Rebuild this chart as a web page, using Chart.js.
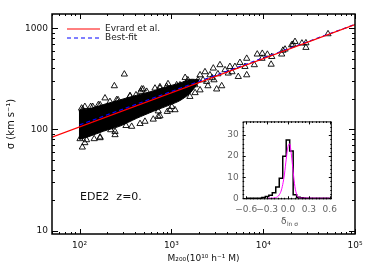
<!DOCTYPE html>
<html>
<head>
<meta charset="utf-8">
<script src="https://cdn.jsdelivr.net/npm/chart.js@4.4.1/dist/chart.umd.min.js"></script>
<style>
html, body { margin: 0; padding: 0; background: #fff; }
#wrap { position: relative; width: 374px; height: 267px; }
#main { position: absolute; left: 0; top: 0; }
#inset { position: absolute; left: 222px; top: 112px; }
</style>
</head>
<body>
<div id="wrap">
  <canvas id="main" width="374" height="267"></canvas>
  <canvas id="inset" width="120" height="118"></canvas>
</div>
<script>
// --- main panel: sigma vs M200 ---
const massRange = [50, 1e5];
const sigmaRange = [9.3, 1380];
const xTickValues = [1e2, 1e3, 1e4, 1e5];
const xTickLabels = ['10²', '10³', '10⁴', '10⁵'];
const yTickValues = [10, 100, 1000];
const yTickLabels = ['10', '100', '1000'];

const evrardMass = [50, 1e5];
const evrardSigma = [84, 1083];
const bestFitMass = [100, 1e5];
const bestFitSigma = [111, 1088];

// dense cloud of haloes (outline of the solid black band)
const bandMass  = [98, 101, 130, 181, 275, 419, 634, 964, 1240, 1590, 2000];
const bandUpper = [152, 156, 161, 176, 196, 218, 240, 270, 288, 312, 310];
const bandLower = [81, 80, 86, 96, 108, 129, 151, 175, 193, 228, 295];

// individual haloes outside / along the edge of the dense band
const haloMass = [
  50800, 29200, 29200, 22200, 21100, 26400, 20400, 17300, 16400, 15900,
  12200, 12400, 11100, 9770, 9700, 8610, 8000, 6610, 6330, 6610,
  5350, 5580, 4920, 4340, 3380, 3530, 3110, 2860, 4160, 2420,
  1410, 1590, 1140, 1010, 2320, 2630, 3840, 4570, 2050, 1950,
  2770, 3210, 307, 239, 189, 107, 108, 139, 144, 218,
  320, 462, 474, 411, 719, 902, 1140, 634, 101, 105,
  132, 494, 662, 167, 262, 354, 750, 918, 114, 167,
  243, 455, 750, 1094, 1240, 1510, 1810, 2050, 2210, 2500,
  1810, 1440, 2910,
  114, 160, 214, 253, 354, 538, 750, 887,
  119, 167, 243, 369, 515, 719, 964
];
const haloSigma = [
  877, 643, 714, 736, 690, 710, 682, 619, 603, 553,
  439, 523, 551, 562, 502, 553, 434, 502, 417, 345,
  332, 457, 417, 417, 434, 269, 250, 402, 359, 297,
  325, 211, 204, 168, 370, 345, 387, 370, 345, 308,
  323, 353, 351, 269, 204, 66.8, 158, 168, 80.8, 99,
  109, 237, 250, 219, 152, 150, 275, 126, 80.8, 162,
  168, 250, 255, 175, 196, 214, 263, 282, 73.8, 82.6,
  88.5, 114, 136, 156, 275, 308, 275, 245, 308, 269,
  230, 235, 308,
  168, 175, 188, 196, 214, 237, 255, 265,
  78.9, 84, 95.3, 107, 120, 134, 156
];

// --- inset: distribution of delta ln sigma ---
const histCenters = [
  -0.60, -0.55, -0.50, -0.45, -0.40, -0.35, -0.30, -0.25, -0.20, -0.15, -0.10, -0.05,
  0.00, 0.05, 0.10, 0.15, 0.20, 0.25, 0.30, 0.35, 0.40, 0.45, 0.50, 0.55, 0.60
];
const histCounts = [
  0, 0, 0, 0, 0, 0.4, 0.8, 1.4, 2.6, 5.3, 9.5, 20,
  27.7, 22.5, 1.7, 0.5, 0.2, 0, 0, 0, 0, 0, 0, 0, 0
];
const gaussX = [-0.30, -0.20, -0.175, -0.15, -0.125, -0.10, -0.075, -0.05, -0.025, 0.0, 0.025, 0.05, 0.075, 0.10, 0.125, 0.15, 0.175, 0.63];
const gaussY = [0, 0.1, 0.3, 0.7, 1.6, 3.3, 6.5, 11.5, 18.5, 24.5, 25.8, 20.5, 12.5, 5.5, 1.8, 0.5, 0.1, 0];
const insetXTicks = [-0.6, -0.3, 0.0, 0.3, 0.6];
const insetXLabels = ['−0.6', '−0.3', '0.0', '0.3', '0.6'];
const insetYTicks = [0, 10, 20, 30];
const insetYLabels = ['0', '10', '20', '30'];

Chart.defaults.font.family = 'DejaVu Sans';
Chart.defaults.color = '#111';

const pts = (xs, ys) => xs.map((x, i) => ({ x: x, y: ys[i] }));

// frame, inward ticks on all four sides, legend and label text
const mainDecor = {
  id: 'mainDecor',
  afterDatasetsDraw(chart) {
    const { ctx, chartArea: a, scales: { x, y } } = chart;
    ctx.save();
    ctx.strokeStyle = '#000';
    ctx.lineWidth = 1.5;
    ctx.strokeRect(a.left, a.top, a.right - a.left, a.bottom - a.top);

    ctx.lineWidth = 1;
    ctx.beginPath();
    for (let d = 1; d <= 5; d++) {
      for (let k = 1; k <= 9; k++) {
        const v = k * Math.pow(10, d);
        if (v >= x.min && v <= x.max * 1.001) {
          const px = Math.round(x.getPixelForValue(v)) + 0.5;
          const len = k === 1 ? 5 : 2;
          ctx.moveTo(px, a.bottom); ctx.lineTo(px, a.bottom - len);
          ctx.moveTo(px, a.top); ctx.lineTo(px, a.top + len);
        }
        if (v >= y.min && v <= y.max) {
          const py = Math.round(y.getPixelForValue(v)) + 0.5;
          const len = k === 1 ? 6 : 3;
          ctx.moveTo(a.left, py); ctx.lineTo(a.left + len, py);
          ctx.moveTo(a.right, py); ctx.lineTo(a.right - len, py);
        }
      }
    }
    ctx.stroke();

    // legend (first two datasets)
    ctx.font = '9px "DejaVu Sans"';
    ctx.textBaseline = 'middle';
    ctx.textAlign = 'left';
    [29, 38].forEach((ly, i) => {
      const ds = chart.data.datasets[i];
      ctx.strokeStyle = ds.borderColor;
      ctx.lineWidth = 1;
      ctx.setLineDash(ds.borderDash || []);
      ctx.beginPath();
      ctx.moveTo(67, ly); ctx.lineTo(100, ly);
      ctx.stroke();
      ctx.setLineDash([]);
      ctx.fillStyle = '#222';
      ctx.fillText(ds.label, 105, ly - 0.5);
    });

    ctx.font = '11px "DejaVu Sans"';
    ctx.fillStyle = '#111';
    ctx.fillText('EDE2  z=0.', 80, 197);
    ctx.restore();
  }
};

new Chart(document.getElementById('main'), {
  type: 'line',
  data: {
    datasets: [
      { label: 'Evrard et al.', data: pts(evrardMass, evrardSigma), borderColor: '#ff0000', borderWidth: 1.3, pointRadius: 0 },
      { label: 'Best-fit', data: pts(bestFitMass, bestFitSigma), borderColor: '#0000ff', borderWidth: 1.2, borderDash: [4, 3], pointRadius: 0 },
      { label: 'haloes', data: pts(haloMass, haloSigma), showLine: false, pointStyle: 'triangle', pointRadius: 3.6, borderWidth: 0.9, borderColor: '#000', backgroundColor: 'rgba(0,0,0,0)' },
      { label: 'band top', data: pts(bandMass, bandUpper), borderColor: '#000', borderWidth: 1, pointRadius: 0, backgroundColor: '#000', fill: '+1', tension: 0.3 },
      { label: 'band bottom', data: pts(bandMass, bandLower), borderColor: '#000', borderWidth: 1, pointRadius: 0, tension: 0.3 }
    ]
  },
  options: {
    responsive: false,
    animation: false,
    events: [],
    layout: { padding: { top: 14, right: 19, left: 0, bottom: 0 } },
    plugins: { legend: { display: false }, tooltip: { enabled: false } },
    scales: {
      x: {
        type: 'logarithmic', min: massRange[0], max: massRange[1],
        afterBuildTicks: s => { s.ticks = xTickValues.map(v => ({ value: v })); },
        afterFit: s => { s.height = 33; },
        grid: { display: false, drawTicks: false },
        border: { display: false },
        ticks: { callback: (v, i) => xTickLabels[i], font: { size: 9 }, padding: 6, maxRotation: 0, autoSkip: false },
        title: { display: true, text: 'M₂₀₀(10¹⁰ h⁻¹ M)', font: { size: 9 }, padding: { top: 0, bottom: 3 } }
      },
      y: {
        type: 'logarithmic', min: sigmaRange[0], max: sigmaRange[1],
        afterBuildTicks: s => { s.ticks = yTickValues.map(v => ({ value: v })); },
        afterFit: s => { s.width = 52; },
        grid: { display: false, drawTicks: false },
        border: { display: false },
        ticks: { callback: (v, i) => yTickLabels[i], font: { size: 9 }, padding: 4, autoSkip: false },
        title: { display: true, text: 'σ (km s⁻¹)', font: { size: 10 }, padding: { top: 5, bottom: 0 } }
      }
    }
  },
  plugins: [mainDecor]
});

// inset frame, ticks and the delta label
const insetDecor = {
  id: 'insetDecor',
  beforeDatasetsDraw(chart) {
    const { ctx, chartArea: a } = chart;
    ctx.save();
    ctx.fillStyle = '#fff';
    ctx.fillRect(a.left, a.top, a.right - a.left, a.bottom - a.top);
    ctx.restore();
  },
  afterDatasetsDraw(chart) {
    const { ctx, chartArea: a, scales: { x, y } } = chart;
    ctx.save();
    ctx.strokeStyle = '#000';
    ctx.lineWidth = 1;
    ctx.strokeRect(a.left + 0.5, a.top + 0.5, a.right - a.left - 1, a.bottom - a.top - 1);
    ctx.beginPath();
    for (let i = -12; i <= 12; i++) {
      const v = i * 0.05;
      const px = Math.round(x.getPixelForValue(v)) + 0.5;
      const len = i % 6 === 0 ? 3 : 1.5;
      ctx.moveTo(px, a.bottom); ctx.lineTo(px, a.bottom - len);
      ctx.moveTo(px, a.top); ctx.lineTo(px, a.top + len);
    }
    for (let v = 0; v <= 36; v += 2) {
      const py = Math.round(y.getPixelForValue(v)) + 0.5;
      const len = v % 10 === 0 ? 3 : 1.5;
      ctx.moveTo(a.left, py); ctx.lineTo(a.left + len, py);
      ctx.moveTo(a.right, py); ctx.lineTo(a.right - len, py);
    }
    ctx.stroke();

    const cx = x.getPixelForValue(0);
    ctx.fillStyle = '#555';
    ctx.textBaseline = 'middle';
    ctx.textAlign = 'left';
    ctx.font = '9px "DejaVu Sans"';
    ctx.fillText('δ', cx - 7, 109.5);
    ctx.font = '6px "DejaVu Sans"';
    ctx.fillText('ln σ', cx - 1, 112.5);
    ctx.restore();
  }
};

new Chart(document.getElementById('inset'), {
  type: 'line',
  data: {
    datasets: [
      { label: 'Gaussian', data: pts(gaussX, gaussY), borderColor: '#ff00ff', borderWidth: 1, pointRadius: 0, cubicInterpolationMode: 'monotone' },
      { label: 'Histogram', data: pts(histCenters, histCounts), borderColor: '#000', borderWidth: 1.5, pointRadius: 0, stepped: 'middle' }
    ]
  },
  options: {
    responsive: false,
    animation: false,
    events: [],
    layout: { padding: { top: 7.7, right: 5.3, left: 0, bottom: 0 } },
    plugins: { legend: { display: false }, tooltip: { enabled: false } },
    scales: {
      x: {
        type: 'linear', min: -0.65, max: 0.63,
        afterBuildTicks: s => { s.ticks = insetXTicks.map(v => ({ value: v })); },
        afterFit: s => { s.height = 30.7; },
        grid: { display: false, drawTicks: false },
        border: { display: false },
        ticks: { callback: (v, i) => insetXLabels[i], font: { size: 9 }, color: '#666', padding: 5, maxRotation: 0, autoSkip: false }
      },
      y: {
        type: 'linear', min: -0.5, max: 36.5,
        afterBuildTicks: s => { s.ticks = insetYTicks.map(v => ({ value: v })); },
        afterFit: s => { s.width = 20.7; },
        grid: { display: false, drawTicks: false },
        border: { display: false },
        ticks: { callback: (v, i) => insetYLabels[i], font: { size: 9 }, color: '#666', padding: 4, autoSkip: false }
      }
    }
  },
  plugins: [insetDecor]
});
</script>
</body>
</html>
